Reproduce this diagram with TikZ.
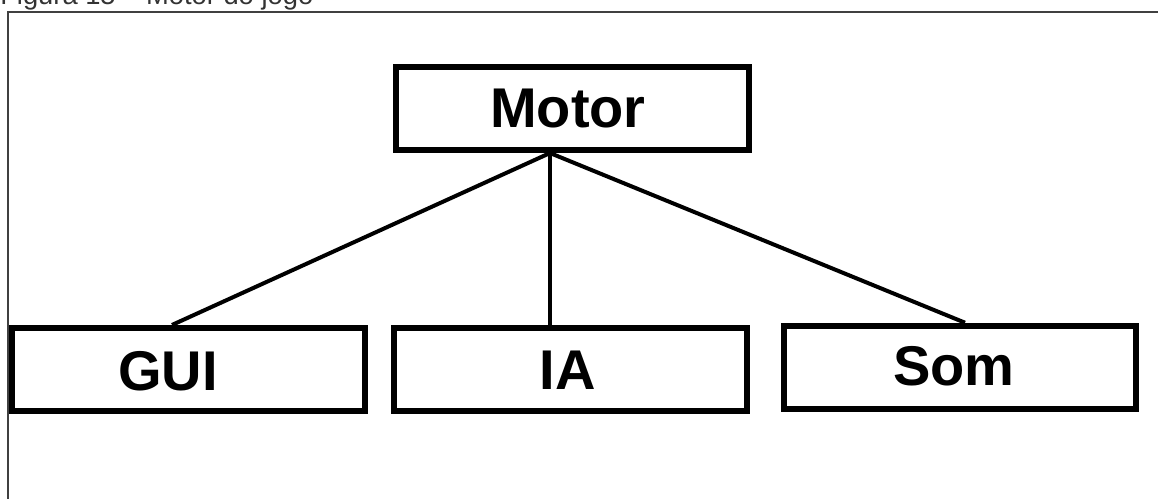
\documentclass[tikz,border=0pt]{standalone}
\usepackage{fontspec}
\setmainfont{Liberation Sans}
\usetikzlibrary{calc}
\begin{document}
\begin{tikzpicture}[x=0.75pt,y=-0.75pt,
  box/.style={draw=black, line width=4.5pt, rectangle, inner sep=0pt, fill=white,
              minimum width=264.5pt, minimum height=62.3pt},
  lbl/.style={font=\fontsize{42}{50}\selectfont\bfseries, anchor=base, inner sep=0pt},
  link/.style={draw=black, line width=3pt},
  frame/.style={draw=black!75, line width=1.5pt}]
\useasboundingbox (0,0) rectangle (1158,499);
\clip (0,0) rectangle (1158,499);

% caption above the frame
\node[anchor=base west, inner sep=0pt, text=black!80,
      font=\fontsize{20.5}{24}\selectfont] (caption) at (0,5) {Figura 15 – Motor do jogo};

% open frame (left and top edges)
\coordinate (fbl) at (8,520);
\coordinate (ftl) at (8,12);
\coordinate (ftr) at (1180,12);
\draw[frame] (fbl) -- (ftl) -- (ftr);

% boxes
\node[box] (motor) at (572.5,108.5) {};
\node[box] (gui)   at (188.25,369.5) {};
\node[box] (ia)    at (570.75,369.5) {};
\node[box] (som)   at (960,367.25) {};

% labels
\node[lbl] (motorlbl) at (568,128) {Motor};
\node[lbl] (guilbl)   at (168,390) {GUI};
\node[lbl] (ialbl)    at (567.5,389) {IA};
\node[lbl] (somlbl)   at (954,385) {Som};

% connectors
\coordinate (hub) at ($(motor.south)+(-22.5,0)$);
\draw[link] (hub) -- ($(gui.north)+(-16.25,0)$);
\draw[link] (hub) -- ($(ia.north)+(-20.75,0)$);
\draw[link] (hub) -- ($(som.north)+(5,0)$);
\end{tikzpicture}
\end{document}
